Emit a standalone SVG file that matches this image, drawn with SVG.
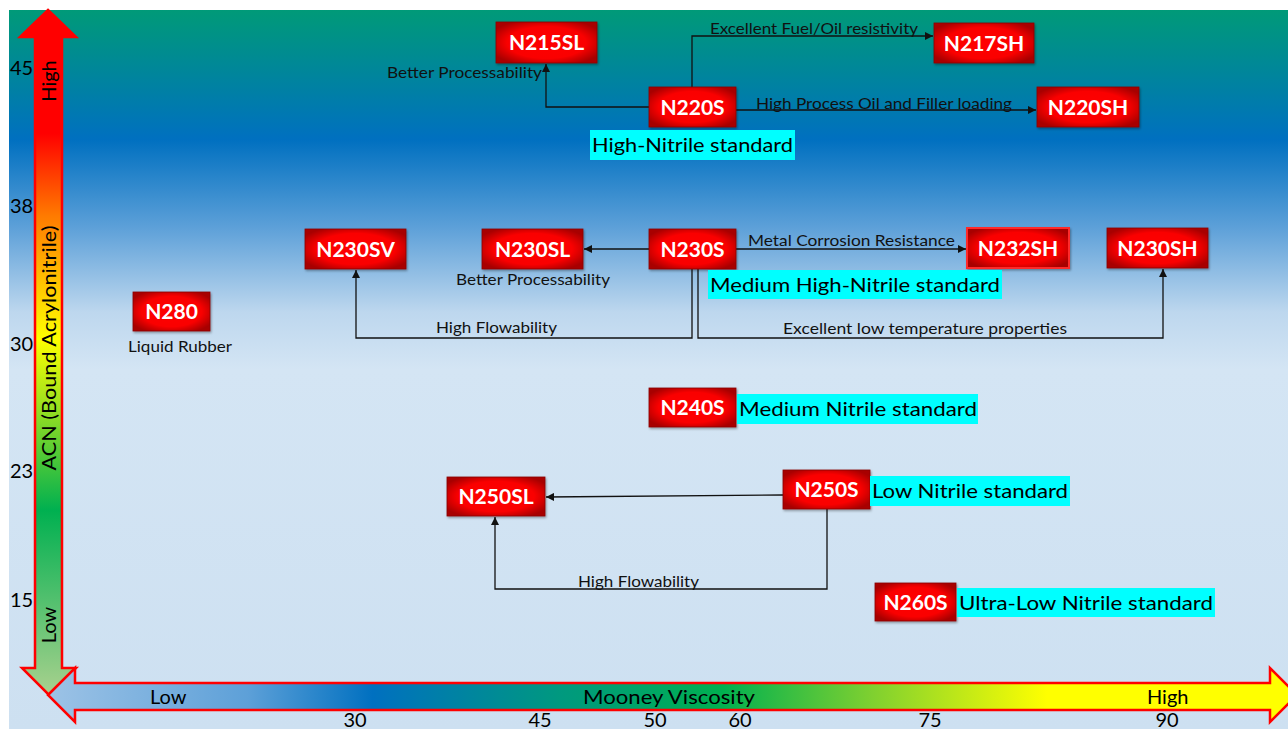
<svg xmlns="http://www.w3.org/2000/svg" width="1288" height="729" viewBox="0 0 1288 729">
<defs>
<linearGradient id="bg" x1="0" y1="10" x2="0" y2="729" gradientUnits="userSpaceOnUse">
<stop offset="0" stop-color="#009a78"/>
<stop offset="0.18" stop-color="#0070c0"/>
<stop offset="0.3" stop-color="#5b9fd8"/>
<stop offset="0.42" stop-color="#bdd7ee"/>
<stop offset="0.5" stop-color="#d4e5f4"/>
<stop offset="1" stop-color="#cde0f1"/>
</linearGradient>
<linearGradient id="vg" x1="0" y1="10" x2="0" y2="695" gradientUnits="userSpaceOnUse">
<stop offset="0" stop-color="#ff0000"/>
<stop offset="0.18" stop-color="#ff0000"/>
<stop offset="0.3" stop-color="#ff7a00"/>
<stop offset="0.48" stop-color="#ffff00"/>
<stop offset="0.73" stop-color="#00b050"/>
<stop offset="1" stop-color="#a9d18e"/>
</linearGradient>
<linearGradient id="hg" x1="48" y1="0" x2="1297" y2="0" gradientUnits="userSpaceOnUse">
<stop offset="0" stop-color="#9dc3e6"/>
<stop offset="0.16" stop-color="#5da0d8"/>
<stop offset="0.26" stop-color="#0070c0"/>
<stop offset="0.41" stop-color="#00997f"/>
<stop offset="0.54" stop-color="#00b050"/>
<stop offset="0.66" stop-color="#7fd030"/>
<stop offset="0.8" stop-color="#ffff00"/>
<stop offset="1" stop-color="#ffff00"/>
</linearGradient>
<radialGradient id="ng" cx="0.5" cy="0.5" r="0.6">
<stop offset="0" stop-color="#ff0000"/>
<stop offset="0.65" stop-color="#fa0000"/>
<stop offset="1" stop-color="#a80000"/>
</radialGradient>
<filter id="sh" x="-10%" y="-10%" width="125%" height="130%">
<feDropShadow dx="1" dy="1.5" stdDeviation="1" flood-color="#000" flood-opacity="0.35"/>
</filter>
<marker id="ah" viewBox="0 0 10 10" refX="10" refY="5" markerWidth="9" markerHeight="8" markerUnits="userSpaceOnUse" orient="auto">
<path d="M0,0 L10,5 L0,10 z" fill="#111"/>
</marker>
<style>
.box{fill:url(#ng);stroke:#8a0000;stroke-width:0.8;filter:url(#sh)}
.nt{font-family:Lato,"Liberation Sans",sans-serif;font-weight:bold;font-size:21px;fill:#fff;text-anchor:middle}
.lbl{font-family:Lato,"Liberation Sans",sans-serif;font-size:15px;fill:#111}
.std{font-family:Lato,"Liberation Sans",sans-serif;font-size:20px;fill:#000}
.cy{fill:#00ffff}
.ax{font-family:Lato,"Liberation Sans",sans-serif;font-size:20px;fill:#000}
.con{fill:none;stroke:#111;stroke-width:1.3}
</style>
</defs>
<rect x="0" y="0" width="1288" height="729" fill="#fff"/>
<rect x="9" y="10" width="1279" height="719" fill="url(#bg)"/>

<g id="y-axis">
<polygon points="48,10 76,37 62,37 62,668 76,668 49,695 22,668 35,668 35,37 20,37" fill="url(#vg)" stroke="#ff0000" stroke-width="2.5" stroke-linejoin="miter"/>
<text class="ax" transform="translate(56,81) rotate(-90)" text-anchor="middle">High</text>
<text class="ax" transform="translate(56,348) rotate(-90)" text-anchor="middle" textLength="245" lengthAdjust="spacingAndGlyphs">ACN (Bound Acrylonitrile)</text>
<text class="ax" transform="translate(56,625) rotate(-90)" text-anchor="middle">Low</text>
<text class="ax" x="10" y="75">45</text>
<text class="ax" x="10" y="213">38</text>
<text class="ax" x="10" y="351">30</text>
<text class="ax" x="10" y="478">23</text>
<text class="ax" x="10" y="607">15</text>
</g>

<g id="x-axis">
<polygon points="48,695 75,668 75,683 1270,683 1270,668 1297,695 1270,722 1270,710 75,710 75,722" fill="url(#hg)" stroke="#ff0000" stroke-width="2.5"/>
<text class="ax" x="150" y="704">Low</text>
<text class="ax" x="669" y="704" text-anchor="middle" textLength="172" lengthAdjust="spacingAndGlyphs">Mooney Viscosity</text>
<text class="ax" x="1147" y="704">High</text>
<text class="ax" x="355" y="727" text-anchor="middle">30</text>
<text class="ax" x="540" y="727" text-anchor="middle">45</text>
<text class="ax" x="655" y="727" text-anchor="middle">50</text>
<text class="ax" x="740" y="727" text-anchor="middle">60</text>
<text class="ax" x="930" y="727" text-anchor="middle">75</text>
<text class="ax" x="1167" y="727" text-anchor="middle">90</text>
</g>

<g id="connectors">
<path class="con" d="M649,107 H546 V64" marker-end="url(#ah)"/>
<path class="con" d="M692,87 V36 H933" marker-end="url(#ah)"/>
<path class="con" d="M736,110 H1036" marker-end="url(#ah)"/>
<path class="con" d="M649,249 H584" marker-end="url(#ah)"/>
<path class="con" d="M736,249 H966" marker-end="url(#ah)"/>
<path class="con" d="M692,269 V338 H356 V270" stroke-width="2.2" marker-end="url(#ah)"/>
<path class="con" d="M698,269 V338 H1163 V269" marker-end="url(#ah)"/>
<path class="con" d="M783,495 L546,497" marker-end="url(#ah)"/>
<path class="con" d="M827,509 V589 H495 V517" marker-end="url(#ah)"/>
<text class="lbl" x="387" y="78" textLength="155" lengthAdjust="spacingAndGlyphs">Better Processability</text>
<text class="lbl" x="710" y="34" textLength="208" lengthAdjust="spacingAndGlyphs">Excellent Fuel/Oil resistivity</text>
<text class="lbl" x="756" y="109" textLength="256" lengthAdjust="spacingAndGlyphs">High Process Oil and Filler loading</text>
<text class="lbl" x="456" y="285" textLength="154" lengthAdjust="spacingAndGlyphs">Better Processability</text>
<text class="lbl" x="436" y="333" textLength="121" lengthAdjust="spacingAndGlyphs">High Flowability</text>
<text class="lbl" x="748" y="246" textLength="207" lengthAdjust="spacingAndGlyphs">Metal Corrosion Resistance</text>
<text class="lbl" x="783" y="334" textLength="284" lengthAdjust="spacingAndGlyphs">Excellent low temperature properties</text>
<text class="lbl" x="578" y="587" textLength="121" lengthAdjust="spacingAndGlyphs">High Flowability</text>
</g>

<g id="N215SL"><rect class="box" x="496" y="22" width="101" height="41"/><text class="nt" x="546.5" y="50">N215SL</text></g>
<g id="N220S"><rect class="box" x="649" y="87" width="87" height="40"/><text class="nt" x="692.5" y="114.5">N220S</text></g>
<g id="N217SH"><rect class="box" x="934" y="23" width="100" height="40"/><text class="nt" x="984" y="50.5">N217SH</text></g>
<g id="N220SH"><rect class="box" x="1037" y="87" width="102" height="40"/><text class="nt" x="1088" y="114.5">N220SH</text></g>
<g id="N230SV"><rect class="box" x="305" y="229" width="101" height="40"/><text class="nt" x="355.5" y="256.5">N230SV</text></g>
<g id="N230SL"><rect class="box" x="482" y="229" width="101" height="40"/><text class="nt" x="532.5" y="256.5">N230SL</text></g>
<g id="N230S"><rect class="box" x="649" y="229" width="87" height="40"/><text class="nt" x="692.5" y="256.5">N230S</text></g>
<g id="N232SH"><rect class="box" x="967" y="228" width="102" height="40" style="stroke:#ff2a2a;stroke-width:2"/><text class="nt" x="1018" y="255.5">N232SH</text></g>
<g id="N230SH"><rect class="box" x="1107" y="228" width="101" height="40"/><text class="nt" x="1157.5" y="255.5">N230SH</text></g>
<g id="N280"><rect class="box" x="133" y="292" width="77" height="39"/><text class="nt" x="171.5" y="319">N280</text><text class="lbl" x="128" y="352" textLength="104" lengthAdjust="spacingAndGlyphs">Liquid Rubber</text></g>
<g id="N240S"><rect class="box" x="649" y="388" width="87" height="39"/><text class="nt" x="692.5" y="415">N240S</text></g>
<g id="N250S"><rect class="box" x="783" y="470" width="87" height="39"/><text class="nt" x="826.5" y="497">N250S</text></g>
<g id="N250SL"><rect class="box" x="447" y="477" width="98" height="39"/><text class="nt" x="496" y="504">N250SL</text></g>
<g id="N260S"><rect class="box" x="875" y="583" width="81" height="38"/><text class="nt" x="915.5" y="609.5">N260S</text></g>

<g id="std-high"><rect class="cy" x="590" y="130" width="205" height="30"/><text class="std" x="592" y="152" textLength="201" lengthAdjust="spacingAndGlyphs">High-Nitrile standard</text></g>
<g id="std-medhigh"><rect class="cy" x="708" y="270" width="294" height="29"/><text class="std" x="710" y="292" textLength="290" lengthAdjust="spacingAndGlyphs">Medium High-Nitrile standard</text></g>
<g id="std-med"><rect class="cy" x="737" y="394" width="241" height="30"/><text class="std" x="739" y="416" textLength="238" lengthAdjust="spacingAndGlyphs">Medium Nitrile standard</text></g>
<g id="std-low"><rect class="cy" x="870" y="476" width="200" height="30"/><text class="std" x="872" y="498" textLength="196" lengthAdjust="spacingAndGlyphs">Low Nitrile standard</text></g>
<g id="std-ultralow"><rect class="cy" x="957" y="588" width="258" height="29"/><text class="std" x="959" y="610" textLength="254" lengthAdjust="spacingAndGlyphs">Ultra-Low Nitrile standard</text></g>
</svg>
